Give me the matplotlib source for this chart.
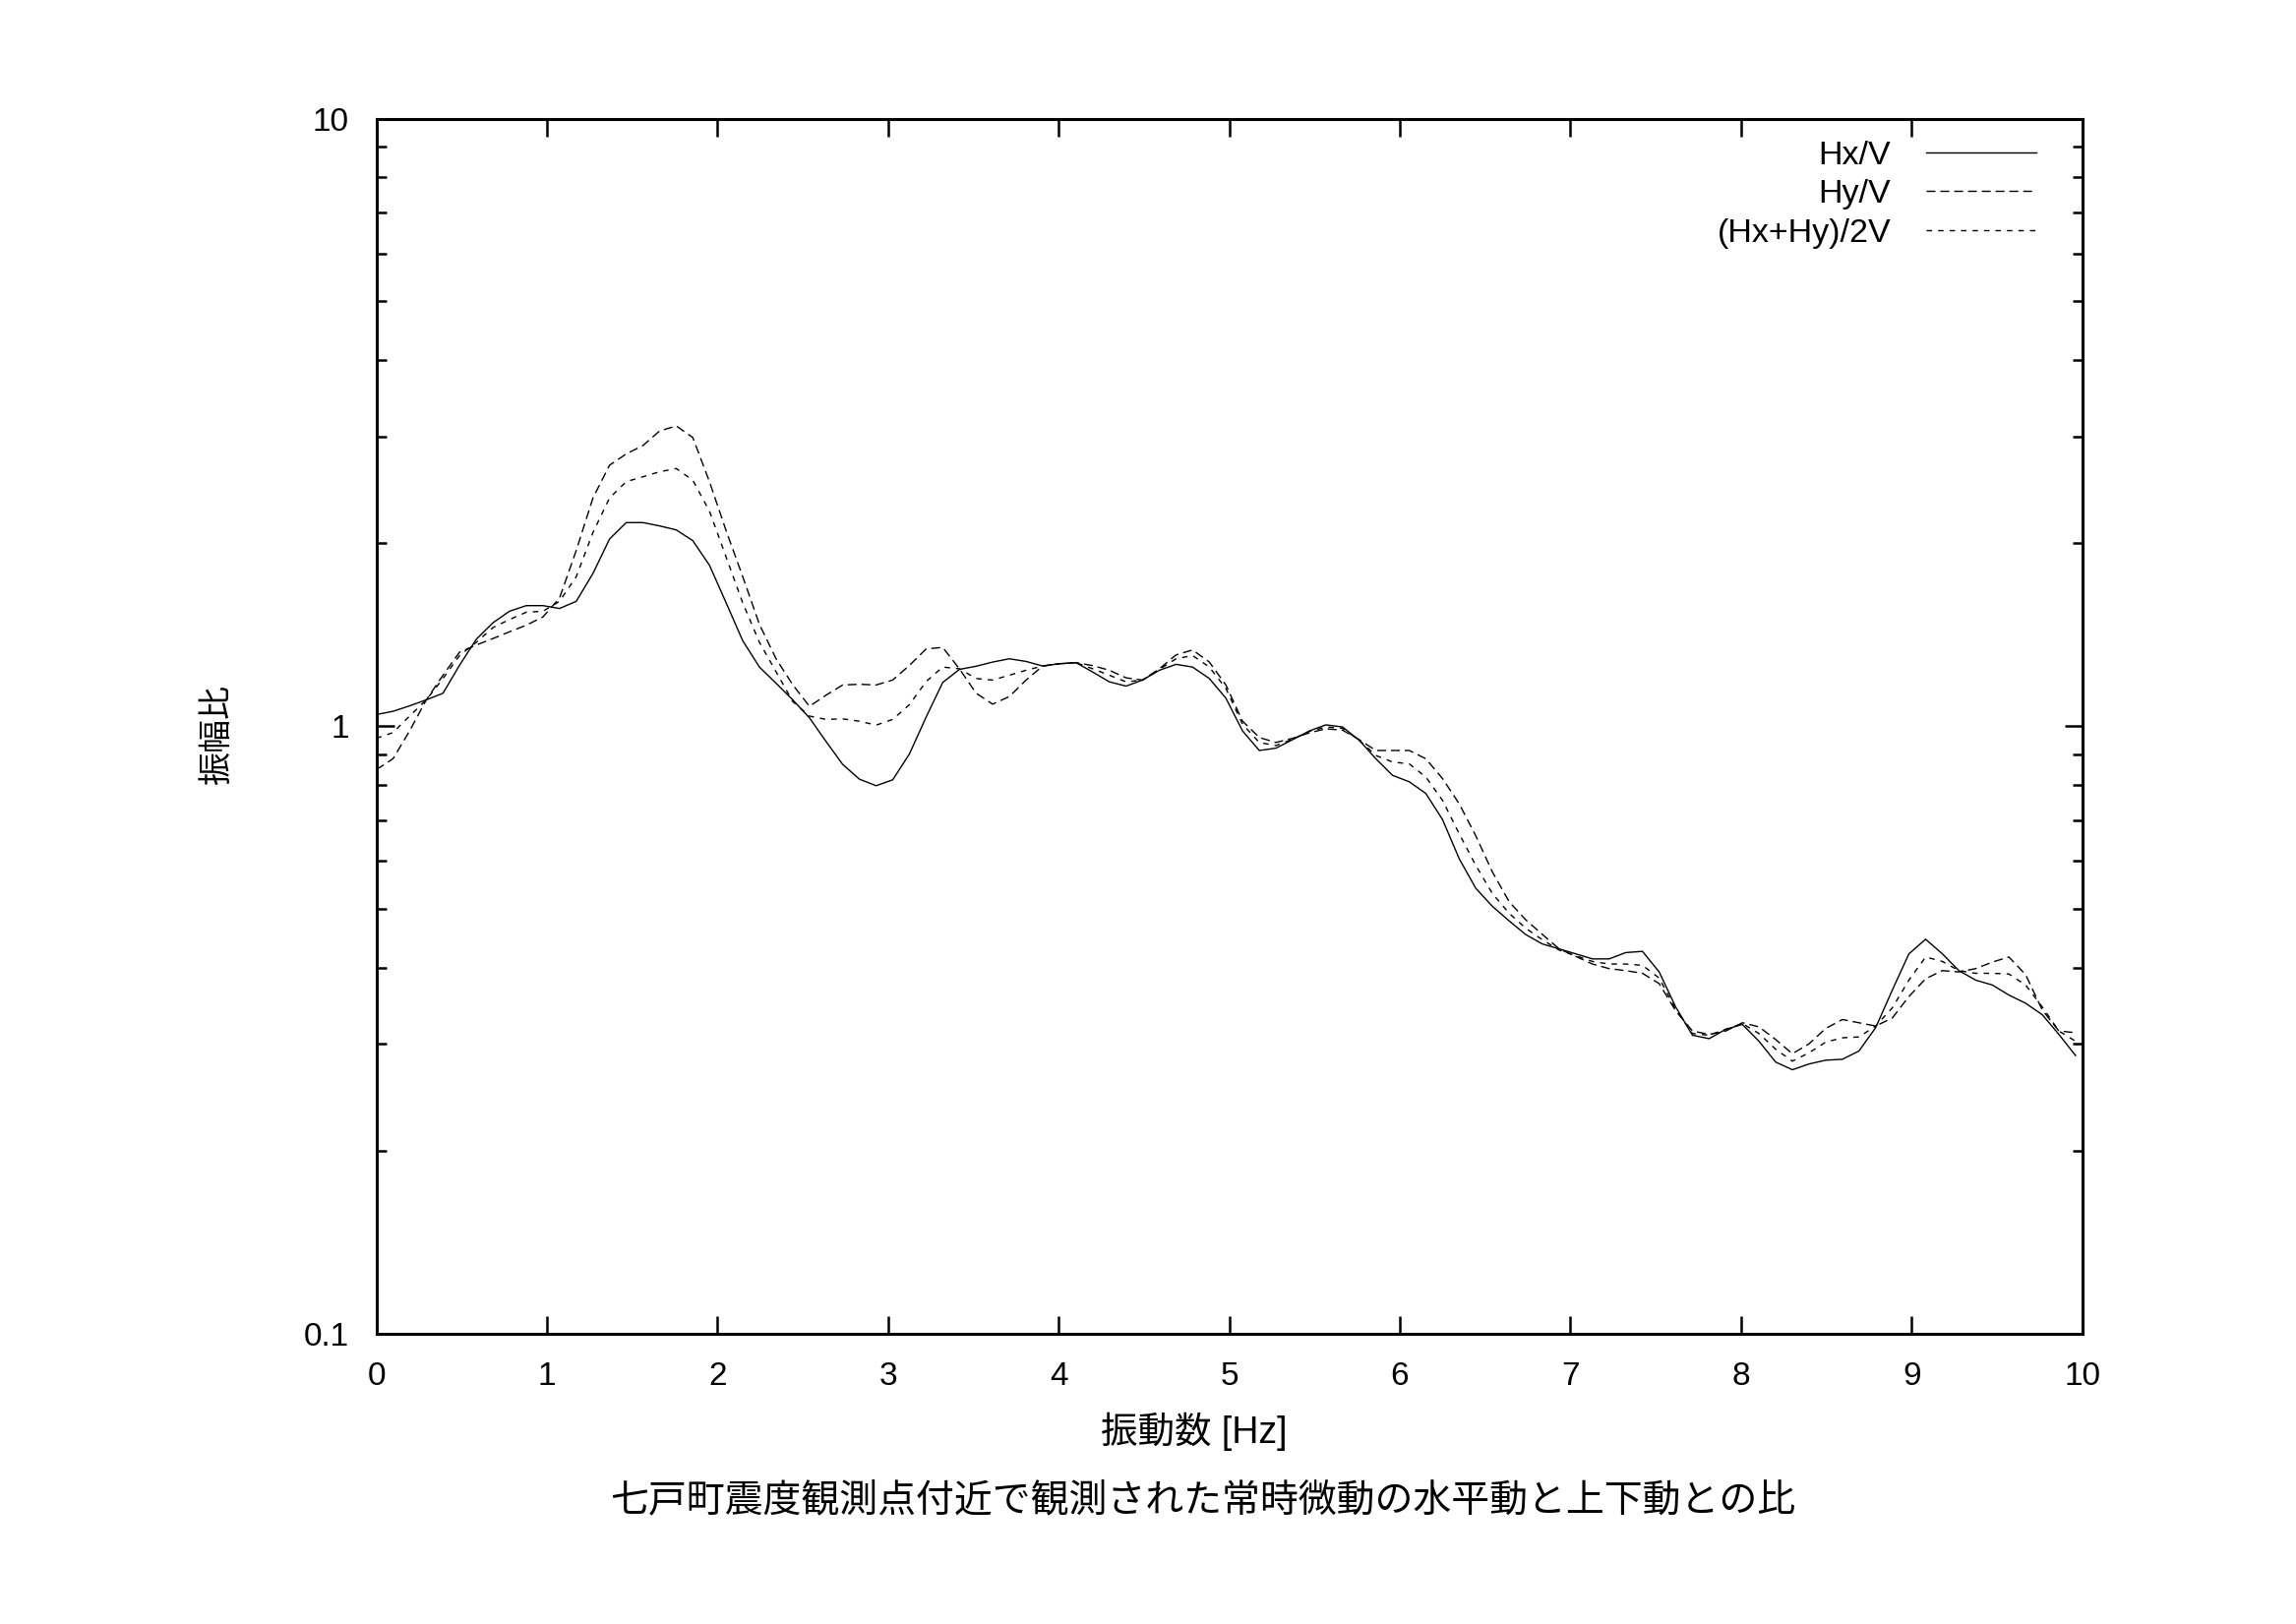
import matplotlib
matplotlib.use("Agg")
import matplotlib.pyplot as plt
from matplotlib.ticker import LogLocator, NullFormatter

plt.rcParams['font.family'] = ['Liberation Sans', 'Noto Sans CJK JP', 'DejaVu Sans']
plt.rcParams['lines.scale_dashes'] = False

# frequency bins (Hz), spacing 100/1024
freq = [0.000, 0.098, 0.195, 0.293, 0.391, 0.488, 0.586, 0.684, 0.781, 0.879,
        0.977, 1.074, 1.172, 1.270, 1.367, 1.465, 1.563, 1.660, 1.758, 1.855,
        1.953, 2.051, 2.148, 2.246, 2.344, 2.441, 2.539, 2.637, 2.734, 2.832,
        2.930, 3.027, 3.125, 3.223, 3.320, 3.418, 3.516, 3.613, 3.711, 3.809,
        3.906, 4.004, 4.102, 4.199, 4.297, 4.395, 4.492, 4.590, 4.688, 4.785,
        4.883, 4.980, 5.078, 5.176, 5.273, 5.371, 5.469, 5.566, 5.664, 5.762,
        5.859, 5.957, 6.055, 6.152, 6.250, 6.348, 6.445, 6.543, 6.641, 6.738,
        6.836, 6.934, 7.031, 7.129, 7.227, 7.324, 7.422, 7.520, 7.617, 7.715,
        7.813, 7.910, 8.008, 8.105, 8.203, 8.301, 8.398, 8.496, 8.594, 8.691,
        8.789, 8.887, 8.984, 9.082, 9.180, 9.277, 9.375, 9.473, 9.570, 9.668,
        9.766, 9.863, 9.961]

# Hx/V
hx = [1.045, 1.058, 1.08, 1.105, 1.133, 1.26, 1.39, 1.48, 1.546, 1.579,
      1.579, 1.562, 1.605, 1.784, 2.032, 2.163, 2.163, 2.136, 2.104, 2.02,
      1.84, 1.595, 1.382, 1.251, 1.176, 1.105, 1.032, 0.943, 0.865, 0.818,
      0.798, 0.816, 0.90, 1.035, 1.18, 1.24, 1.255, 1.275, 1.291, 1.278,
      1.256, 1.267, 1.272, 1.228, 1.183, 1.164, 1.191, 1.236, 1.264, 1.251,
      1.198, 1.112, 0.982, 0.912, 0.92, 0.95, 0.982, 1.005, 0.997, 0.948,
      0.884, 0.83, 0.81, 0.775, 0.702, 0.605, 0.541, 0.505, 0.478, 0.454,
      0.438, 0.43, 0.422, 0.414, 0.414, 0.424, 0.426, 0.394, 0.345, 0.31,
      0.306, 0.317, 0.323, 0.303, 0.28, 0.272, 0.278, 0.282, 0.283, 0.292,
      0.319, 0.368, 0.422, 0.446, 0.422, 0.396, 0.382, 0.375, 0.361, 0.35,
      0.335, 0.311, 0.287]

# Hy/V
hy = [0.848, 0.884, 0.982, 1.105, 1.213, 1.324, 1.36, 1.394, 1.43, 1.466,
      1.513, 1.625, 1.946, 2.375, 2.688, 2.806, 2.896, 3.06, 3.12, 2.986,
      2.525, 2.096, 1.762, 1.47, 1.29, 1.17, 1.078, 1.125, 1.169, 1.172,
      1.169, 1.191, 1.259, 1.34, 1.348, 1.243, 1.133, 1.087, 1.119, 1.191,
      1.256, 1.267, 1.272, 1.258, 1.236, 1.201, 1.191, 1.243, 1.31, 1.335,
      1.275, 1.169, 1.019, 0.958, 0.94, 0.955, 0.975, 0.99, 0.985, 0.95,
      0.912, 0.912, 0.912, 0.884, 0.82, 0.745, 0.66, 0.575, 0.514, 0.48,
      0.454, 0.43, 0.418, 0.406, 0.399, 0.396, 0.392, 0.377, 0.34, 0.315,
      0.311, 0.315, 0.325, 0.32, 0.305, 0.289, 0.30, 0.318, 0.329, 0.325,
      0.321, 0.331, 0.359, 0.384, 0.396, 0.394, 0.399, 0.409, 0.417, 0.39,
      0.341, 0.315, 0.313]

# (Hx+Hy)/2V
hxy = [0.955, 0.976, 1.039, 1.105, 1.198, 1.307, 1.374, 1.453, 1.498, 1.54,
       1.546, 1.605, 1.762, 2.084, 2.374, 2.526, 2.573, 2.622, 2.655, 2.54,
       2.258, 1.897, 1.595, 1.374, 1.228, 1.098, 1.039, 1.026, 1.028, 1.019,
       1.004, 1.026, 1.085, 1.184, 1.251, 1.243, 1.198, 1.191, 1.213, 1.236,
       1.256, 1.267, 1.272, 1.243, 1.213, 1.183, 1.191, 1.24, 1.291, 1.307,
       1.251, 1.154, 1.007, 0.94, 0.929, 0.952, 0.98, 0.997, 0.992, 0.948,
       0.895, 0.873, 0.867, 0.825, 0.755, 0.665, 0.59, 0.53, 0.492, 0.465,
       0.445, 0.428, 0.419, 0.41, 0.406, 0.406, 0.404, 0.385, 0.342, 0.312,
       0.31, 0.317, 0.324, 0.312, 0.294, 0.281, 0.29, 0.302, 0.307, 0.308,
       0.321, 0.344, 0.382, 0.417, 0.41, 0.396, 0.392, 0.392, 0.391, 0.375,
       0.345, 0.315, 0.303]

labels = ['Hx/V', 'Hy/V', '(Hx+Hy)/2V']
xticks = [0, 1, 2, 3, 4, 5, 6, 7, 8, 9, 10]
yticks = [0.1, 1, 10]
yticklabels = ['0.1', '1', '10']

fig = plt.figure(figsize=(23.34, 16.51), dpi=100)
ax = fig.add_axes([0.1639, 0.1787, 0.743, 0.7483])

ax.plot(freq, hx, color='black', lw=1.0, label=labels[0])
ax.plot(freq, hy, color='black', lw=1.0, dashes=(6.5, 3.6), label=labels[1])
ax.plot(freq, hxy, color='black', lw=1.0, dashes=(4.0, 4.4), label=labels[2])

ax.set_yscale('log')
ax.set_xlim(0, 10)
ax.set_ylim(0.1, 10)
ax.set_xticks(xticks)
ax.set_xticklabels([str(t) for t in xticks])
ax.set_yticks(yticks)
ax.set_yticklabels(yticklabels)
ax.yaxis.set_minor_locator(LogLocator(base=10, subs=[2, 3, 4, 5, 6, 7, 8, 9]))
ax.yaxis.set_minor_formatter(NullFormatter())

for s in ax.spines.values():
    s.set_linewidth(2.2)
ax.tick_params(which='both', direction='in', top=True, right=True, width=1.8)
ax.tick_params(which='major', length=13, labelsize=24)
ax.tick_params(which='minor', length=7)
ax.tick_params(axis='y', which='major', pad=20)
ax.tick_params(axis='x', which='major', pad=20)

leg = ax.legend(loc='upper right', bbox_to_anchor=(0.9731, 0.982), frameon=False,
                markerfirst=False, fontsize=24.5, handlelength=3.3, handletextpad=1.05,
                labelspacing=0.25, borderpad=0, borderaxespad=0)

fig.text(0.520, 0.1184, '振動数 [Hz]', ha='center', va='center', fontsize=27)
fig.text(0.0946, 0.5475, '振幅比', ha='center', va='center', rotation=90, fontsize=24.5)
fig.text(0.524, 0.0758, '七戸町震度観測点付近で観測された常時微動の水平動と上下動との比',
         ha='center', va='center', fontsize=28)

fig.savefig('out.png', dpi=100)
